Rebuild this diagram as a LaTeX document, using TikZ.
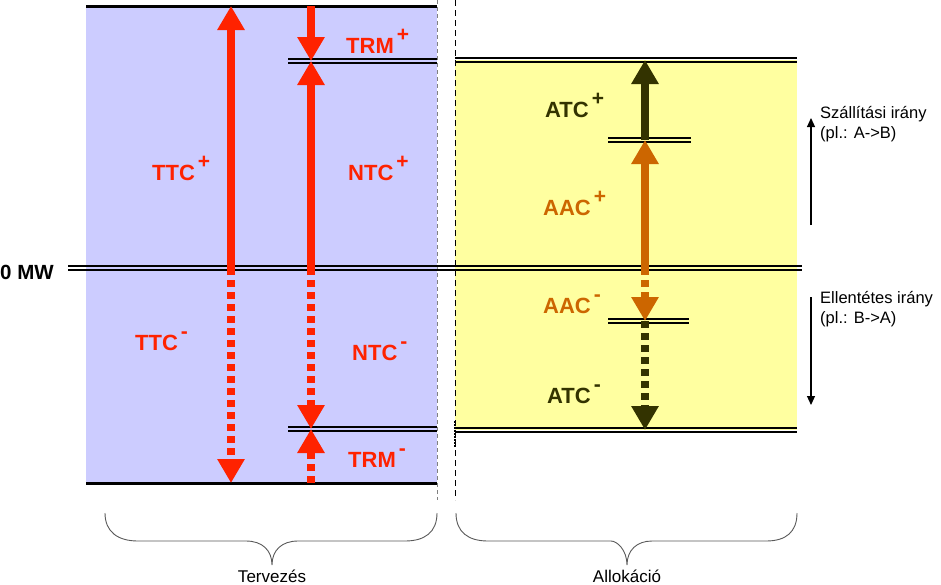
\documentclass[tikz,border=0pt]{standalone}
\usepackage{fontspec}
\setmainfont{Liberation Sans}
\usetikzlibrary{arrows.meta}
\definecolor{bluebg}{RGB}{204,204,255}
\definecolor{yellowbg}{RGB}{255,255,160}
\definecolor{redc}{RGB}{255,34,0}
\definecolor{orangec}{RGB}{204,102,0}
\definecolor{olivec}{RGB}{51,51,0}
\definecolor{bracec}{RGB}{90,90,90}
\newcommand\psup[1]{\kern3pt\raisebox{12pt}{\fontsize{21}{21}\selectfont #1}}
\newcommand\dbl[3]{\draw[line width=1.3pt] (#1,#3-1.9) -- (#2,#3-1.9); \draw[line width=1.3pt] (#1,#3+1.9) -- (#2,#3+1.9);}
\tikzset{
  bigarr/.style={line width=7.5pt, -{Triangle[width=26pt,length=24pt]}},
  dashshaft/.style={dash pattern=on 7pt off 5pt},
  lbl/.style={font=\fontsize{22}{22}\selectfont\bfseries, inner sep=0pt, anchor=base west},
  small/.style={font=\fontsize{16.5}{19.5}\selectfont, inner sep=0pt, anchor=base west, align=left},
  bracelbl/.style={font=\fontsize{17}{17}\selectfont, inner sep=0pt, anchor=base},
  thinarr/.style={line width=1.1pt, -{Triangle[width=8pt,length=9pt]}},
  brace/.style={draw=bracec, line width=0.9pt}
}
\begin{document}
\begin{tikzpicture}[x=1pt,y=-1pt]
\useasboundingbox (0,0) rectangle (941,584);
\fill[white] (0,0) rectangle (941,584);
% backgrounds
\fill[bluebg] (86,6) rectangle (437,483);
\fill[yellowbg] (455,60) rectangle (797,430);
% separators
\draw[gray, line width=1pt, dash pattern=on 4pt off 3pt] (437,0) -- (437,500);
\draw[black, line width=1pt, dash pattern=on 6pt off 4pt] (455,0) -- (455,500);
\draw[black, line width=2pt, dash pattern=on 2pt off 1pt] (455,421) -- (455,447);
% horizontal lines
\draw[line width=3pt] (86,6) -- (437,6);
\draw[line width=3pt] (86,483) -- (437,483);
\dbl{68}{802}{268}
\dbl{288}{437}{61}
\dbl{288}{437}{429}
\dbl{455}{797}{60}
\dbl{455}{797}{430}
\dbl{608}{691}{140}
\dbl{608}{689}{321}
% coordinates
\coordinate (Atop) at (231,6);
\coordinate (Azero) at (231,268);
\coordinate (Abot) at (231,483);
\coordinate (Btop) at (311,6);
\coordinate (Btrmp) at (311,61);
\coordinate (Bzero) at (311,268);
\coordinate (Btrmm) at (311,429);
\coordinate (Bbot) at (311,483);
\coordinate (Ctop) at (645,60);
\coordinate (Catc) at (645,140);
\coordinate (Czero) at (645,268);
\coordinate (Caac) at (645,321);
\coordinate (Cbot) at (645,430);
% red arrows
\draw[bigarr, redc] (Azero) -- (Atop);
\draw[bigarr, redc, dashshaft] (Azero) -- (Abot);
\draw[bigarr, redc] (Btop) -- (Btrmp);
\draw[bigarr, redc] (Bzero) -- (Btrmp);
\draw[bigarr, redc, dashshaft] (Bzero) -- (Btrmm);
\draw[bigarr, redc, dashshaft] (Bbot) -- (Btrmm);
% right arrows
\draw[bigarr, olivec] (Catc) -- (Ctop);
\draw[bigarr, orangec] (Czero) -- (Catc);
\draw[bigarr, orangec, dashshaft] (Czero) -- (Caac);
\draw[bigarr, olivec, dashshaft] (Caac) -- (Cbot);
% labels
\node[lbl, text=redc] (trmp) at (346,53) {TRM\psup{+}};
\node[lbl, text=redc] (ttcp) at (152,180) {TTC\psup{+}};
\node[lbl, text=redc] (ntcp) at (348,180) {NTC\psup{+}};
\node[lbl, text=redc] (ttcm) at (135,350) {TTC\psup{-}};
\node[lbl, text=redc] (ntcm) at (352,360) {NTC\psup{-}};
\node[lbl, text=redc] (trmm) at (348,467) {TRM\psup{-}};
\node[lbl, text=olivec] (atcp) at (545,117) {ATC\psup{+}};
\node[lbl, text=orangec] (aacp) at (543,215) {AAC\psup{+}};
\node[lbl, text=orangec] (aacm) at (543,313) {AAC\psup{-}};
\node[lbl, text=olivec] (atcm) at (547,403) {ATC\psup{-}};
\node[inner sep=0pt, anchor=base west, font=\fontsize{20.5}{20.5}\selectfont\bfseries] (zero) at (0,279) {0 MW};
% direction arrows
\coordinate (u1) at (811,225);
\coordinate (u2) at (811,118);
\coordinate (d1) at (811,297);
\coordinate (d2) at (811,405);
\draw[thinarr] (u1) -- (u2);
\draw[thinarr] (d1) -- (d2);
\node[small] (szall) at (820,138) {Szállítási irány\\(pl.: A->B)};
\node[small] (ellen) at (820,323) {Ellentétes irány\\(pl.: B->A)};
% braces
\draw[brace] (105,513) .. controls (105,532) and (118,541) .. (138,541) -- (246,541)
  .. controls (262,541) and (272,550) .. (272,565)
  .. controls (272,550) and (282,541) .. (298,541) -- (405,541)
  .. controls (425,541) and (437,532) .. (437,513);
\draw[brace] (456,513) .. controls (456,532) and (468,541) .. (488,541) -- (611,541)
  .. controls (617,541) and (627,550) .. (627,565)
  .. controls (627,550) and (637,541) .. (652,541) -- (766,541)
  .. controls (786,541) and (797,532) .. (797,513);
\node[bracelbl] (terv) at (272,582) {Tervezés};
\node[bracelbl] (allok) at (627,582) {Allokáció};
\end{tikzpicture}
\end{document}
